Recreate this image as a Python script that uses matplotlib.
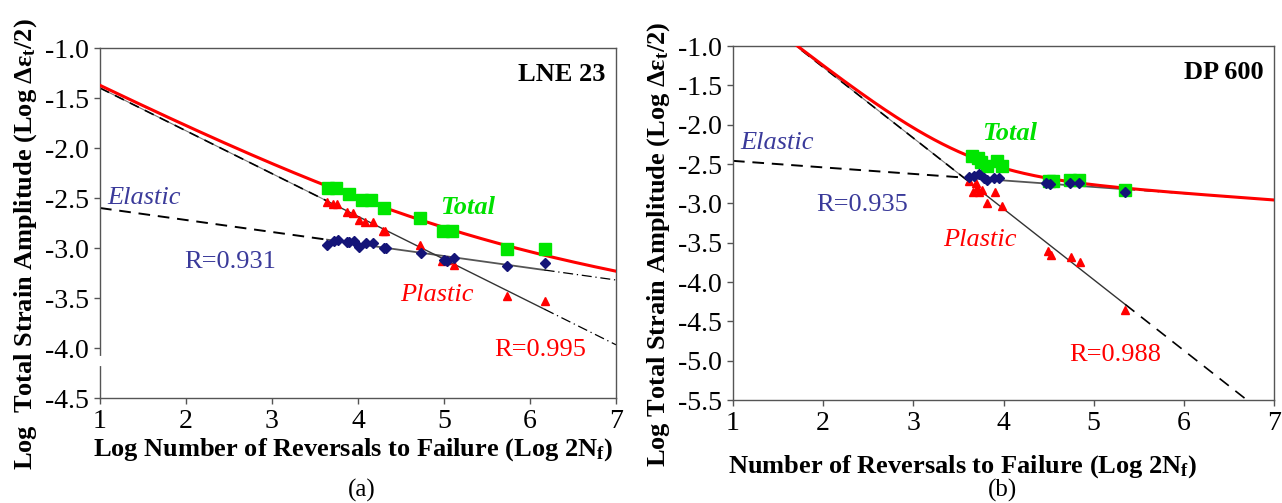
import numpy as np
import matplotlib
matplotlib.use("Agg")
import matplotlib.pyplot as plt
import matplotlib.transforms as mtransforms

plt.rcParams['font.family'] = ['Liberation Serif', 'DejaVu Serif']
plt.rcParams['axes.unicode_minus'] = False
plt.rcParams['mathtext.fontset'] = 'custom'
plt.rcParams['mathtext.rm'] = 'Liberation Serif:bold'
plt.rcParams['mathtext.it'] = 'Liberation Serif:bold:italic'
plt.rcParams['mathtext.bf'] = 'Liberation Serif:bold'

# ---------------- data: panel (a) LNE 23 ----------------
a_total_x = [3.65, 3.74, 3.90, 4.05, 4.15, 4.30, 4.72, 4.99, 5.09, 5.73, 6.17]
a_total_y = [-2.40, -2.40, -2.46, -2.52, -2.52, -2.60, -2.70, -2.83, -2.83, -3.01, -3.01]
a_plastic_x = [3.64, 3.71, 3.76, 3.87, 3.94, 4.01, 4.08, 4.18, 4.29, 4.31, 4.72, 4.98, 5.04, 5.12, 5.73, 6.17]
a_plastic_y = [-2.54, -2.56, -2.56, -2.64, -2.65, -2.72, -2.74, -2.74, -2.83, -2.83, -2.97, -3.13, -3.12, -3.17, -3.48, -3.53]
a_elastic_x = [3.64, 3.72, 3.77, 3.87, 3.90, 3.95, 4.01, 4.09, 4.18, 4.30, 4.32, 4.73, 5.00, 5.04, 5.12, 5.73, 6.17]
a_elastic_y = [-2.97, -2.93, -2.92, -2.94, -2.94, -2.93, -2.99, -2.95, -2.95, -3.00, -3.00, -3.05, -3.12, -3.13, -3.10, -3.18, -3.15]
# fitted lines: y = intercept + slope * x
a_el_fit = (-2.48, -0.12)
a_pl_fit = (-0.972, -0.428)

# ---------------- data: panel (b) DP 600 ----------------
b_total_x = [3.65, 3.72, 3.75, 3.82, 3.93, 3.98, 4.50, 4.55, 4.74, 4.84, 5.35]
b_total_y = [-2.40, -2.42, -2.47, -2.53, -2.46, -2.53, -2.72, -2.72, -2.70, -2.70, -2.83]
b_plastic_x = [3.62, 3.66, 3.69, 3.71, 3.73, 3.76, 3.82, 3.91, 3.98, 4.49, 4.53, 4.75, 4.85, 5.35]
b_plastic_y = [-2.72, -2.85, -2.74, -2.81, -2.85, -2.83, -3.00, -2.85, -3.03, -3.60, -3.66, -3.68, -3.74, -4.35]
b_elastic_x = [3.62, 3.67, 3.73, 3.78, 3.82, 3.89, 3.95, 4.47, 4.52, 4.74, 4.84, 5.35]
b_elastic_y = [-2.66, -2.65, -2.63, -2.68, -2.70, -2.68, -2.68, -2.74, -2.75, -2.74, -2.74, -2.86]
b_el_fit = (-2.377, -0.083)
b_pl_fit = (0.53, -0.90)

panels = [
    dict(name="LNE 23", cap="(a)", tx=a_total_x, ty=a_total_y, px=a_plastic_x, py=a_plastic_y,
         ex=a_elastic_x, ey=a_elastic_y, el=a_el_fit, pl=a_pl_fit, ylim=(-4.5, -1.0),
         yticks=np.arange(-4.5, -0.99, 0.5),
         rect=[100/1282, 1-398/503, 516/1282, 350/503],
         xlabel="Log Number of Reversals to Failure (Log 2N$_\\mathregular{f}$)",
         ylabel="Log  Total Strain Amplitude (Log \u0394\u03b5$_\\mathregular{t}$/2)",
         xlab=(0.49, -0.11), ylab=(-0.145, 0.44), caption=(362/1282, 1-490/503),
         texts=[("Elastic", 1.08, -2.50, '#3a3a9a', 'normal', 'italic', 'left'),
                ("R=0.931", 2.51, -3.14, '#3a3a9a', 'normal', 'normal', 'center'),
                ("Total", 5.27, -2.59, '#00e000', 'bold', 'italic', 'center'),
                ("Plastic", 4.92, -3.47, '#ff0000', 'normal', 'italic', 'center'),
                ("R=0.995", 6.12, -4.02, '#ff0000', 'normal', 'normal', 'center')],
         brk=True),
    dict(name="DP 600", cap="(b)", tx=b_total_x, ty=b_total_y, px=b_plastic_x, py=b_plastic_y,
         ex=b_elastic_x, ey=b_elastic_y, el=b_el_fit, pl=b_pl_fit, ylim=(-5.5, -1.0),
         yticks=np.arange(-5.5, -0.99, 0.5),
         rect=[733/1282, 1-400/503, 541/1282, 354/503],
         xlabel="Number of Reversals to Failure (Log 2N$_\\mathregular{f}$)",
         ylabel="Log Total Strain Amplitude (Log \u0394\u03b5$_\\mathregular{t}$/2)",
         xlab=(0.425, -0.15), ylab=(-0.138, 0.44), caption=(1003/1282, 1-490/503),
         texts=[("Elastic", 1.08, -2.23, '#3a3a9a', 'normal', 'italic', 'left'),
                ("R=0.935", 2.43, -3.02, '#3a3a9a', 'normal', 'normal', 'center'),
                ("Total", 4.07, -2.11, '#00e000', 'bold', 'italic', 'center'),
                ("Plastic", 3.74, -3.46, '#ff0000', 'normal', 'italic', 'center'),
                ("R=0.988", 5.24, -4.93, '#ff0000', 'normal', 'normal', 'center')],
         brk=False),
]

fig = plt.figure(figsize=(12.82, 5.03), dpi=100)

for p in panels:
    ax = fig.add_axes(p['rect'])
    ax.set_xlim(1, 7)
    ax.set_ylim(*p['ylim'])
    ax.set_xticks(range(1, 8))
    ax.set_yticks(p['yticks'])
    ax.set_yticklabels([f"{v:.1f}" for v in p['yticks']])
    ax.tick_params(direction='out', length=4, width=1, labelsize=20, pad=4, color='#555555')
    for s in ax.spines.values():
        s.set_color('#555555')
        s.set_linewidth(1.0)

    e0, e1 = p['el']
    q0, q1 = p['pl']
    dmin = min(p['ex'] + p['px'])
    dmax = max(p['ex'] + p['px'])

    def seg(a, b):
        return np.linspace(a, b, 200)

    # elastic line
    xs = seg(1, dmin); ax.plot(xs, e0 + e1 * xs, color='black', lw=1.4, ls=(0, (6, 4)), zorder=2)
    xs = seg(dmin, dmax); ax.plot(xs, e0 + e1 * xs, color='#555555', lw=1.3, zorder=2)
    xs = seg(dmax, 7); ax.plot(xs, e0 + e1 * xs, color='black', lw=0.9, ls=(0, (8, 3, 1, 3)), zorder=2)
    # plastic line
    xs = seg(1, dmin); ax.plot(xs, q0 + q1 * xs, color='black', lw=1.2, ls=(0, (6, 4)), zorder=2)
    ax.plot(xs, q0 + q1 * xs, color='#777777', lw=0.8, zorder=1.9)
    xs = seg(dmin, dmax); ax.plot(xs, q0 + q1 * xs, color='#333333', lw=1.0, zorder=2)
    xs = seg(dmax, 7)
    if p['brk']:
        ax.plot(xs, q0 + q1 * xs, color='black', lw=0.9, ls=(0, (8, 3, 1, 3)), zorder=2)
    else:
        ax.plot(xs, q0 + q1 * xs, color='black', lw=1.2, ls=(0, (7, 5)), zorder=2)
    # total curve (elastic + plastic strains)
    xs = seg(1, 7)
    tot = np.log10(10 ** (e0 + e1 * xs) + 10 ** (q0 + q1 * xs))
    ax.plot(xs, tot, color='#ff0000', lw=2.2, zorder=3)

    ax.plot(p['tx'], p['ty'], ls='none', marker='s', ms=8, color='#00e600', mec='#00e600', zorder=4)
    ax.plot(p['px'], p['py'], ls='none', marker='^', ms=6.3, color='#ff0000', zorder=5)
    ax.plot(p['ex'], p['ey'], ls='none', marker='D', ms=4.8, color='#141478', zorder=5)

    for (t, x, y, c, w, st, ha) in p['texts']:
        ax.text(x, y, t, color=c, fontsize=19, fontweight=w, fontstyle=st, ha=ha, va='center', zorder=6)

    ax.text(0.98, 0.925, p['name'], transform=ax.transAxes, ha='right', va='center',
            fontsize=19, fontweight='bold')

    ax.set_xlabel(p['xlabel'], fontsize=19, fontweight='bold')
    ax.set_ylabel(p['ylabel'], fontsize=19, fontweight='bold')
    ax.xaxis.set_label_coords(*p['xlab'])
    ax.yaxis.set_label_coords(*p['ylab'])
    ax.xaxis.label.set_va('top')
    ax.yaxis.label.set_va('center')

    fig.text(p['caption'][0], p['caption'][1], p['cap'], ha='center', va='center', fontsize=18)

    if p['brk']:
        tr = mtransforms.blended_transform_factory(ax.transAxes, ax.transData)
        ax.plot([0, 0], [-4.10, -4.16], transform=tr, color='white', lw=3, clip_on=False, zorder=10)

fig.savefig("out.png", dpi=100)
